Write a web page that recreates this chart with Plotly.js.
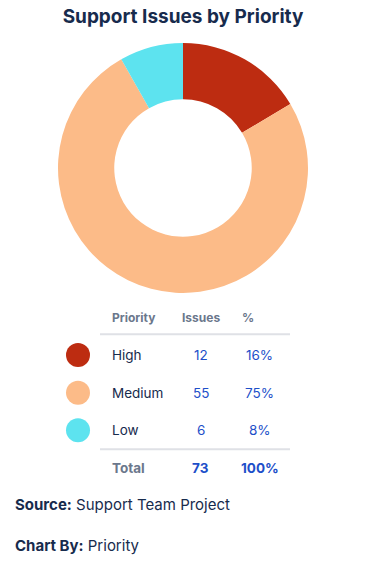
<!DOCTYPE html>
<html>
<head>
<meta charset="utf-8">
<script src="https://cdn.plot.ly/plotly-3.0.1.min.js"></script>
<style>
html,body{margin:0;padding:0;background:#fff;}
#chart{width:366px;height:565px;}
</style>
</head>
<body>
<div id="chart"></div>
<script>
// ---- data ----
const priorities = ['High', 'Medium', 'Low'];
const issues = [12, 55, 6];
const percents = ['16%', '75%', '8%'];
const sliceColors = ['#BD2C11', '#FCBB88', '#5DE3EF'];
const headers = ['Priority', 'Issues', '%'];
const totalLabel = 'Total';
const totalIssues = 73;
const totalPercent = '100%';
const titleText = 'Support Issues by Priority';
const sourceText = 'Support Team Project';
const chartByText = 'Priority';

// ---- styles ----
const NAVY = '#172B4D';
const GRAY = '#6B778C';
const BLUE = '#1D4FC9';
const LINE = '#DFE1E6';
const FONT = 'Inter, "Noto Sans", sans-serif';

const rows = ['hdr'].concat(priorities).concat(['tot']);

const colName = 110, colIssues = 200.5, colPctHdr = 240, colPct = 259.5;

const pie = {
  type: 'pie',
  labels: priorities,
  values: issues,
  marker: {colors: sliceColors, line: {width: 0}},
  hole: 0.55,
  sort: false,
  direction: 'clockwise',
  rotation: 0,
  textinfo: 'none',
  hoverinfo: 'label+value+percent',
  showlegend: false,
  domain: {x: [58/366, 308/366], y: [(565-293)/565, (565-43)/565]}
};

const dots = {
  type: 'scatter',
  mode: 'markers',
  x: priorities.map(() => 78),
  y: priorities,
  marker: {size: 24, color: sliceColors},
  hoverinfo: 'skip',
  showlegend: false,
  xaxis: 'x', yaxis: 'y'
};

const ann = [];
function txt(x, y, text, opts) {
  ann.push(Object.assign({
    x: x, y: y, xref: 'x', yref: 'y', text: text, showarrow: false,
    xanchor: 'left', yanchor: 'middle',
    font: {family: FONT, size: 13, color: NAVY}
  }, opts || {}));
}
// header
txt(colName, 'hdr', '<b>' + headers[0] + '</b>', {font: {family: FONT, size: 12, color: GRAY}});
txt(colIssues, 'hdr', '<b>' + headers[1] + '</b>', {xanchor: 'center', font: {family: FONT, size: 12, color: GRAY}});
txt(colPctHdr, 'hdr', '<b>' + headers[2] + '</b>', {font: {family: FONT, size: 12, color: GRAY}});
// rows
priorities.forEach((p, i) => {
  txt(colName, p, p, {font: {family: FONT, size: 13.5, color: NAVY}});
  txt(colIssues, p, String(issues[i]), {xanchor: 'center', font: {family: FONT, size: 13.5, color: BLUE}});
  txt(colPct, p, percents[i], {xanchor: 'center', font: {family: FONT, size: 13.5, color: BLUE}});
});
// total
txt(colName, 'tot', '<b>' + totalLabel + '</b>', {font: {family: FONT, size: 13.5, color: GRAY}});
txt(colIssues, 'tot', '<b>' + totalIssues + '</b>', {xanchor: 'center', font: {family: FONT, size: 13.5, color: BLUE}});
txt(colPct, 'tot', '<b>' + totalPercent + '</b>', {xanchor: 'center', font: {family: FONT, size: 13.5, color: BLUE}});

// footer
ann.push({xref: 'paper', yref: 'paper', x: 13/366, y: 1 - 505/565, xanchor: 'left', yanchor: 'middle',
  showarrow: false, text: '<b>Source:</b> ' + sourceText, font: {family: FONT, size: 15, color: NAVY}});
ann.push({xref: 'paper', yref: 'paper', x: 13/366, y: 1 - 545/565, xanchor: 'left', yanchor: 'middle',
  showarrow: false, text: '<b>Chart By:</b> ' + chartByText, font: {family: FONT, size: 15, color: NAVY}});

const layout = {
  width: 366, height: 565,
  margin: {l: 0, r: 0, t: 0, b: 0},
  paper_bgcolor: '#fff', plot_bgcolor: 'rgba(0,0,0,0)',
  title: {text: '<b>' + titleText + '</b>', x: 0.5, xanchor: 'center', y: 1 - 16/565, yanchor: 'middle',
    font: {family: FONT, size: 19, color: NAVY}},
  xaxis: {range: [0, 366], domain: [0, 1], visible: false, fixedrange: true},
  yaxis: {type: 'category', categoryorder: 'array', categoryarray: rows, range: [4.5, -0.5],
    domain: [(565-486.85)/565, (565-298.45)/565], visible: false, fixedrange: true},
  shapes: [
    {type: 'line', xref: 'x', yref: 'y', x0: 100, x1: 290, y0: 0.45, y1: 0.45, line: {color: LINE, width: 2}},
    {type: 'line', xref: 'x', yref: 'y', x0: 100, x1: 290, y0: 3.5, y1: 3.5, line: {color: LINE, width: 2}}
  ],
  annotations: ann
};

Plotly.newPlot('chart', [pie, dots], layout, {displayModeBar: false, staticPlot: true});
</script>
</body>
</html>
